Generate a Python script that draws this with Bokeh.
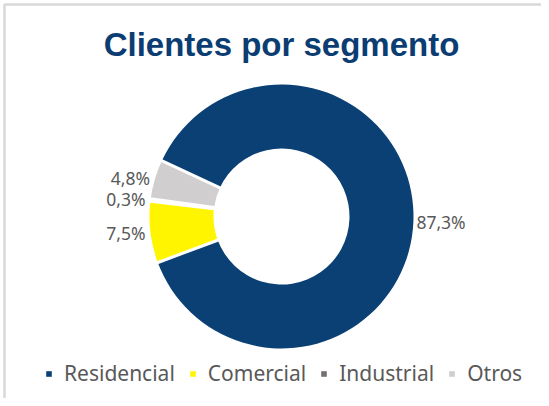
import math
from bokeh.plotting import figure
from bokeh.models import ColumnDataSource, Range1d, Legend, LegendItem
from bokeh.core.properties import value
from bokeh.embed import file_html
from bokeh.resources import INLINE

# ---- data ----
categories = ["Residencial", "Comercial", "Industrial", "Otros"]
shares = [87.3, 7.5, 0.3, 4.8]
colors = ["#0B4075", "#FFF500", "#767171", "#D0CECE"]
title_text = "Clientes por segmento"

# ---- layout ----
W, H = 541, 398
cx, cy = 281, H - 216       # donut centre
r_out, r_in = 132, 68
first_angle = 295.0          # first slice start, degrees clockwise from 12 o'clock

total = sum(shares)
starts, ends, mids = [], [], []
acc = first_angle
for v in shares:
    sweep = v / total * 360.0
    s_cw, e_cw = acc, acc + sweep
    starts.append(math.radians(90 - s_cw))
    ends.append(math.radians(90 - e_cw))
    mids.append(math.radians(90 - (s_cw + e_cw) / 2))
    acc = e_cw

src = ColumnDataSource(dict(cat=categories, share=shares, color=colors,
                            start=starts, end=ends))

p = figure(width=W, height=H, output_backend="svg", toolbar_location=None,
           x_range=Range1d(0, W), y_range=Range1d(0, H),
           x_axis_location=None, y_axis_location=None, min_border=0)
p.grid.visible = False
p.outline_line_color = None
p.background_fill_color = "white"
p.border_fill_color = "white"

wedges = p.annular_wedge(x=cx, y=cy, inner_radius=r_in, outer_radius=r_out,
                         start_angle="start", end_angle="end", direction="clock",
                         fill_color="color", line_color=None, source=src)

# white separators between slices
bx0, by0, bx1, by1 = [], [], [], []
for a in starts:
    bx0.append(cx + (r_in - 2) * math.cos(a)); by0.append(cy + (r_in - 2) * math.sin(a))
    bx1.append(cx + (r_out + 2) * math.cos(a)); by1.append(cy + (r_out + 2) * math.sin(a))
p.segment(x0=bx0, y0=by0, x1=bx1, y1=by1, line_color="white", line_width=3)

# data labels
lx, ly, lt, la = [], [], [], []
for v, m in zip(shares, mids):
    right = math.cos(m) > 0
    r = r_out + (3 if right else 5)
    lx.append(cx + r * math.cos(m))
    ly.append(cy + r * math.sin(m))
    lt.append(f"{v:.1f}".replace(".", ",") + "%")
    la.append("left" if right else "right")
p.text(x=lx, y=ly, text=lt, text_align=la, text_baseline="middle",
       text_font=value("Noto Sans"), text_font_size="17.5px", text_color="#595959")

# title
p.text(x=[cx], y=[H - 44], text=[title_text], text_align="center",
       text_baseline="middle", text_font=value("Liberation Sans"),
       text_font_style="bold", text_font_size="33px", text_color="#0B3D72")

# border (top & left)
p.line(x=[4, 4, W], y=[0, H - 4, H - 4], line_color="#D9D9D9", line_width=2.5)

legend = Legend(items=[LegendItem(label=c, renderers=[wedges], index=i)
                       for i, c in enumerate(categories)],
                orientation="horizontal", location=(45, 11),
                glyph_width=7, glyph_height=7, label_standoff=12, spacing=14,
                padding=0, margin=0, label_height=20,
                label_text_font="Noto Sans", label_text_font_size="21px",
                label_text_color="#595959", border_line_color=None,
                background_fill_alpha=0)
p.add_layout(legend, "center")

open("out.html", "w").write(file_html(p, INLINE))
